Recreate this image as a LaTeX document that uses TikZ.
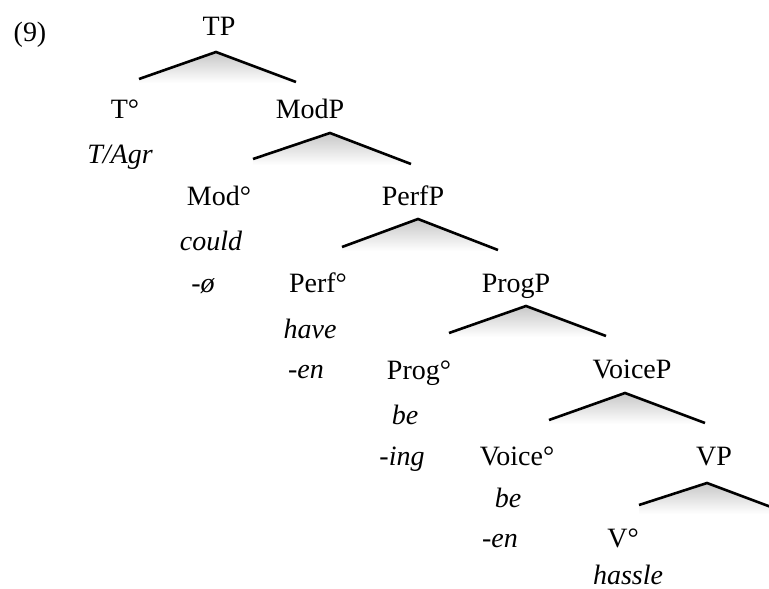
\documentclass[tikz,border=0pt]{standalone}
\usepackage{fontspec}
\setmainfont{Liberation Serif}
\begin{document}
\begin{tikzpicture}[x=1pt,y=-1pt,
  lbl/.style={anchor=base,inner sep=0pt,font=\fontsize{28}{33}\selectfont},
  word/.style={lbl,font=\fontsize{28}{33}\selectfont\itshape},
  hatline/.style={line width=2.6pt,line join=miter},
  hatshade/.style={top color=black!22,bottom color=white,draw=none}]
\useasboundingbox (0,0) rectangle (769,589);
\clip (0,0) rectangle (769,589);
% hats: apex, left end, right end
\foreach \n/\ax/\ay/\lx/\ly/\rx/\ry in {tp/216/52/139/79/296/82,
  modp/330/133/253/159/411/164,
  perfp/418/219/342/247/498/250,
  progp/526/306/449/333/606/336,
  voicep/625/393/549/420/705/423,
  vp/707/483/639/505/787/513}{
  \coordinate (\n A) at (\ax,\ay);
  \coordinate (\n L) at (\lx,\ly);
  \coordinate (\n R) at (\rx,\ry);
  \shade[hatshade] (\n L) -- (\n A) -- (\n R) -- (\rx,\ry+1) -- (\lx,\ry+1) -- cycle;
  \draw[hatline] (\n L) -- (\n A) -- (\n R);
}
\node[lbl] (ex) at (30,41) {(9)};
\node[lbl] (tp) at (219,35) {TP};
\node[lbl] (t) at (125,118) {T°};
\node[word] (tagr) at (120,163) {T/Agr};
\node[lbl] (modp) at (310,118) {ModP};
\node[lbl] (mod) at (219,205) {Mod°};
\node[word] (could) at (211,250) {could};
\node[word] (modaf) at (203,292) {-ø};
\node[lbl] (perfp) at (413,205) {PerfP};
\node[lbl] (perf) at (318,292) {Perf°};
\node[word] (have) at (310,338) {have};
\node[word] (perfaf) at (306,378) {-en};
\node[lbl] (progp) at (516,292) {ProgP};
\node[lbl] (prog) at (419,379) {Prog°};
\node[word] (be1) at (405,424) {be};
\node[word] (progaf) at (402,465) {-ing};
\node[lbl] (voicep) at (632,378) {VoiceP};
\node[lbl] (voice) at (517,465) {Voice°};
\node[word] (be2) at (508,507) {be};
\node[word] (voiceaf) at (500,547) {-en};
\node[lbl] (vpn) at (714,465) {VP};
\node[lbl] (v) at (623,547) {V°};
\node[word] (hassle) at (628,584) {hassle};
\end{tikzpicture}
\end{document}
